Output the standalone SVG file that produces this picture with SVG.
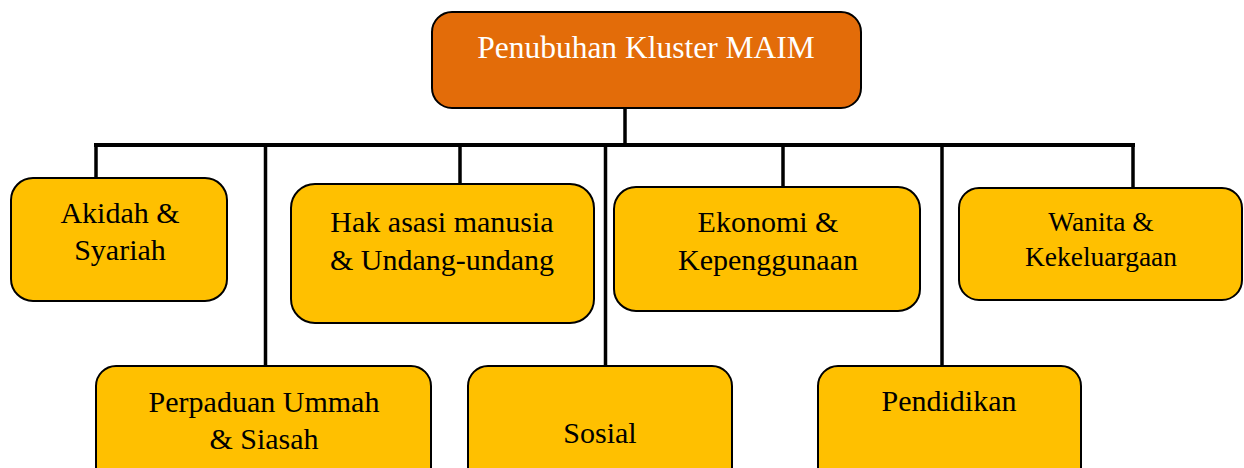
<svg xmlns="http://www.w3.org/2000/svg" width="1244" height="468" viewBox="0 0 1244 468">
<style>
.box{fill:#FFC000;stroke:#000;stroke-width:2}
.top{fill:#E36C09;stroke:#000;stroke-width:2}
.t{font-family:"Liberation Serif","DejaVu Serif",serif;font-size:30px;fill:#000;text-anchor:middle}
.tw{font-family:"Liberation Serif","DejaVu Serif",serif;font-size:31.5px;fill:#fff;text-anchor:middle}
.ln{stroke:#000;stroke-width:4;fill:none}
.lv{stroke:#000;stroke-width:3.5;fill:none}
</style>
<rect width="1244" height="468" fill="#fff"/>
<g id="connectors">
<line class="lv" x1="625" y1="108" x2="625" y2="145"/>
<line class="ln" x1="94" y1="145" x2="1135" y2="145"/>
<line class="lv" x1="96" y1="143" x2="96" y2="185"/>
<line class="lv" x1="265.5" y1="145" x2="265.5" y2="366"/>
<line class="lv" x1="460" y1="143" x2="460" y2="184"/>
<line class="lv" x1="605.5" y1="145" x2="605.5" y2="366"/>
<line class="lv" x1="783" y1="143" x2="783" y2="187"/>
<line class="lv" x1="942" y1="145" x2="942" y2="366"/>
<line class="lv" x1="1133" y1="143" x2="1133" y2="188"/>
</g>
<g id="root">
<rect class="top" x="432" y="12" width="429" height="96" rx="20"/>
<text class="tw" x="646" y="58">Penubuhan Kluster MAIM</text>
</g>
<g id="akidah">
<rect class="box" x="11" y="178" width="216" height="123" rx="22"/>
<text class="t" x="120" y="223">Akidah &amp;</text>
<text class="t" x="120" y="260">Syariah</text>
</g>
<g id="hak">
<rect class="box" x="291" y="184" width="303" height="139" rx="24"/>
<text class="t" x="442" y="232">Hak asasi manusia</text>
<text class="t" x="442" y="270">&amp; Undang-undang</text>
</g>
<g id="ekonomi">
<rect class="box" x="614" y="187" width="306" height="124" rx="22"/>
<text class="t" x="768" y="232">Ekonomi &amp;</text>
<text class="t" x="768" y="270">Kepenggunaan</text>
</g>
<g id="wanita">
<rect class="box" x="959" y="188" width="283" height="112" rx="20"/>
<text class="t" x="1101" y="231" style="font-size:27.5px">Wanita &amp;</text>
<text class="t" x="1101" y="266" style="font-size:27.5px">Kekeluargaan</text>
</g>
<g id="perpaduan">
<rect class="box" x="96" y="366" width="335" height="130" rx="20"/>
<text class="t" x="264" y="412">Perpaduan Ummah</text>
<text class="t" x="264" y="449">&amp; Siasah</text>
</g>
<g id="sosial">
<rect class="box" x="468" y="366" width="264" height="130" rx="20"/>
<text class="t" x="600" y="443">Sosial</text>
</g>
<g id="pendidikan">
<rect class="box" x="818" y="366" width="263" height="130" rx="20"/>
<text class="t" x="949" y="411">Pendidikan</text>
</g>
</svg>
